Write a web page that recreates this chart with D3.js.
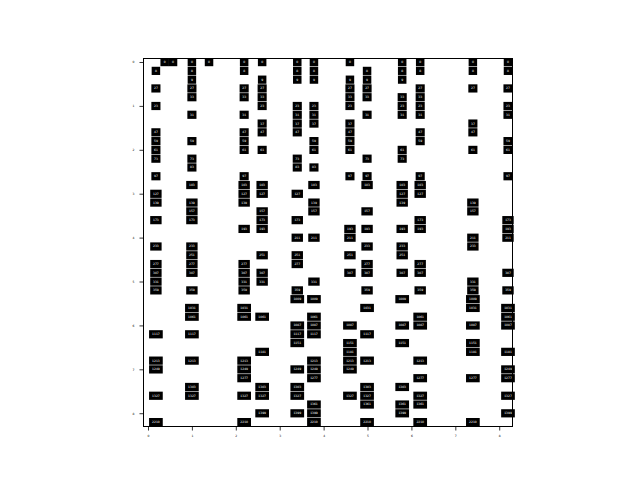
<!DOCTYPE html>
<meta charset="utf-8">
<style>
  body { margin: 0; background: #fff; }
  .box rect { fill: #000; }
  .box text { fill: #fff; font: 3px "DejaVu Sans", sans-serif; }
  .axis text { font: 3px "DejaVu Sans", sans-serif; fill: #000; }
</style>
<body>
<script src="https://cdn.jsdelivr.net/npm/d3@7"></script>
<script>
  // column positions (data units) and the rows filled in each column
  var colX = [0.18, 0.38, 0.57, 1.0, 1.39, 2.19, 2.6, 3.4, 3.78, 4.6, 4.99, 5.79, 6.2, 7.4, 8.2];
  var colRows = [
    [1, 3, 5, 8, 9, 10, 11, 13, 15, 16, 18, 21, 23, 24, 25, 26, 31, 34, 35, 38, 41],
    [0],
    [0],
    [0, 1, 2, 3, 4, 6, 9, 11, 12, 14, 16, 17, 18, 21, 22, 23, 24, 26, 28, 29, 31, 34, 37, 38],
    [0],
    [0, 1, 3, 4, 6, 8, 9, 10, 13, 14, 15, 16, 19, 23, 24, 25, 26, 28, 29, 34, 35, 36, 38, 41],
    [0, 2, 3, 4, 5, 7, 8, 10, 14, 15, 17, 18, 19, 22, 24, 25, 29, 33, 37, 38, 40],
    [0, 1, 2, 5, 6, 7, 8, 11, 12, 15, 18, 20, 22, 23, 26, 27, 30, 31, 32, 35, 37, 38, 40],
    [0, 1, 2, 5, 6, 7, 9, 10, 12, 14, 16, 17, 20, 25, 27, 29, 30, 31, 34, 35, 36, 39, 40, 41],
    [0, 2, 3, 4, 5, 7, 8, 9, 10, 13, 19, 20, 22, 24, 30, 32, 33, 34, 35, 38],
    [1, 2, 3, 4, 6, 11, 13, 14, 17, 19, 21, 23, 24, 26, 28, 31, 34, 37, 38, 39, 41],
    [0, 1, 2, 4, 5, 6, 10, 11, 14, 15, 16, 19, 21, 22, 24, 27, 30, 32, 37, 39, 40],
    [0, 1, 3, 4, 5, 6, 8, 9, 13, 14, 15, 18, 19, 23, 24, 26, 29, 30, 34, 36, 38, 39, 41],
    [0, 1, 3, 7, 8, 10, 16, 17, 20, 21, 25, 26, 27, 28, 30, 32, 33, 36, 41],
    [0, 1, 3, 5, 6, 9, 10, 13, 18, 19, 20, 24, 26, 28, 29, 30, 33, 35, 36, 38, 40]
  ];
  // text shown in the boxes of each row
  var rowLabels = ["0", "8", "9", "27", "33", "23", "31", "37", "47", "59", "61", "73", "83", "97",
    "103", "127", "139", "157", "173", "193", "211", "233", "251", "277", "307", "331", "359",
    "1009", "1031", "1061", "1087", "1117", "1151", "1181", "1213", "1249", "1277", "1303",
    "1327", "1361", "1399", "2210"];
  var xTicks = [0, 1, 2, 3, 4, 5, 6, 7, 8];
  var yTicks = [0, 1, 2, 3, 4, 5, 6, 7, 8];

  var width = 640, height = 480;
  var svg = d3.select("body").append("svg")
    .attr("width", width)
    .attr("height", height);

  var x = d3.scaleLinear().domain([-0.114, 8.314]).range([143, 513]);
  var y = d3.scaleLinear().domain([-0.091, 8.314]).range([58, 427]);

  var cells = [];
  colX.forEach(function (cx, i) {
    colRows[i].forEach(function (r) {
      cells.push({ x: cx, y: r * 0.2, label: rowLabels[r] });
    });
  });

  function boxW(d) { return Math.max(8.5, d.label.length * 2.3 + 4.5); }

  var box = svg.selectAll(".box")
    .data(cells)
    .enter().append("g")
    .attr("class", "box")
    .attr("transform", function (d) { return "translate(" + x(d.x) + "," + y(d.y) + ")"; });

  box.append("rect")
    .attr("x", function (d) { return -boxW(d) / 2; })
    .attr("y", -4)
    .attr("width", boxW)
    .attr("height", 8.2);

  box.append("text")
    .attr("text-anchor", "middle")
    .attr("dy", "0.35em")
    .text(function (d) { return d.label; });

  // frame
  svg.append("rect")
    .attr("x", 143.5).attr("y", 58.5)
    .attr("width", 369).attr("height", 368)
    .attr("fill", "none")
    .attr("stroke", "#000")
    .attr("stroke-width", 1);

  svg.append("g")
    .attr("class", "axis")
    .attr("transform", "translate(0,427)")
    .call(d3.axisBottom(x).tickValues(xTicks).tickSize(3.5).tickPadding(4).tickFormat(d3.format("d")));
  svg.append("g")
    .attr("class", "axis")
    .attr("transform", "translate(143,0)")
    .call(d3.axisLeft(y).tickValues(yTicks).tickSize(3.5).tickPadding(5).tickFormat(d3.format("d")));
  svg.selectAll(".axis .domain").remove();
  svg.selectAll(".axis line").attr("stroke", "#000").attr("stroke-width", 0.8);
</script>
</body>
